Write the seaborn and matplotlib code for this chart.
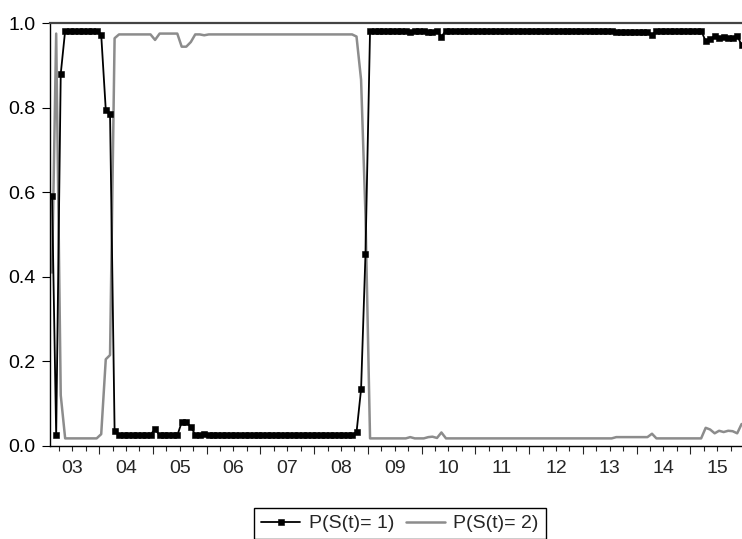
import matplotlib
matplotlib.use("Agg")
import numpy as np
import pandas as pd
import matplotlib.pyplot as plt
import matplotlib.dates as mdates
import seaborn as sns

# ---------------- data (monthly, 2003M02 .. 2015M12) ----------------
start_month = "2003-02-01"
end_month = "2015-12-01"
series_names = ["P(S(t)= 1)", "P(S(t)= 2)"]
year_labels = ["03", "04", "05", "06", "07", "08", "09", "10", "11", "12", "13", "14", "15"]
label_years = [2003, 2004, 2005, 2006, 2007, 2008, 2009, 2010, 2011, 2012, 2013, 2014, 2015]
y_ticks = [0.0, 0.2, 0.4, 0.6, 0.8, 1.0]

p_state1 = [
    # 2003 (Feb-Dec)
    0.590, 0.025, 0.880, 0.982, 0.982, 0.982, 0.982, 0.982, 0.982, 0.982, 0.982,
    # 2004
    0.972, 0.795, 0.785, 0.036, 0.027, 0.027, 0.027, 0.027, 0.027, 0.027, 0.027, 0.027,
    # 2005
    0.040, 0.025, 0.025, 0.025, 0.025, 0.025, 0.056, 0.056, 0.045, 0.027, 0.027, 0.029,
    # 2006
    0.027, 0.027, 0.027, 0.027, 0.027, 0.027, 0.027, 0.027, 0.027, 0.027, 0.027, 0.027,
    # 2007
    0.027, 0.027, 0.027, 0.027, 0.027, 0.027, 0.027, 0.027, 0.027, 0.027, 0.027, 0.027,
    # 2008
    0.027, 0.027, 0.027, 0.027, 0.027, 0.027, 0.027, 0.027, 0.027, 0.032, 0.134, 0.455,
    # 2009
    0.982, 0.982, 0.982, 0.982, 0.982, 0.982, 0.982, 0.982, 0.982, 0.979, 0.982, 0.982,
    # 2010
    0.982, 0.979, 0.978, 0.981, 0.968, 0.982, 0.982, 0.982, 0.982, 0.982, 0.982, 0.982,
    # 2011
    0.982, 0.982, 0.982, 0.982, 0.982, 0.982, 0.982, 0.982, 0.982, 0.982, 0.982, 0.982,
    # 2012
    0.982, 0.982, 0.982, 0.982, 0.982, 0.982, 0.982, 0.982, 0.982, 0.982, 0.982, 0.982,
    # 2013
    0.982, 0.982, 0.982, 0.982, 0.982, 0.982, 0.982, 0.979, 0.979, 0.979, 0.979, 0.979,
    # 2014
    0.979, 0.979, 0.979, 0.971, 0.982, 0.982, 0.982, 0.982, 0.982, 0.982, 0.982, 0.982,
    # 2015
    0.982, 0.982, 0.982, 0.957, 0.961, 0.970, 0.964, 0.967, 0.964, 0.965, 0.970, 0.948,
]

p_state2 = [
    # 2003 (Feb-Dec)
    0.410, 0.975, 0.120, 0.018, 0.018, 0.018, 0.018, 0.018, 0.018, 0.018, 0.018,
    # 2004
    0.028, 0.205, 0.215, 0.964, 0.973, 0.973, 0.973, 0.973, 0.973, 0.973, 0.973, 0.973,
    # 2005
    0.960, 0.975, 0.975, 0.975, 0.975, 0.975, 0.944, 0.944, 0.955, 0.973, 0.973, 0.971,
    # 2006
    0.973, 0.973, 0.973, 0.973, 0.973, 0.973, 0.973, 0.973, 0.973, 0.973, 0.973, 0.973,
    # 2007
    0.973, 0.973, 0.973, 0.973, 0.973, 0.973, 0.973, 0.973, 0.973, 0.973, 0.973, 0.973,
    # 2008
    0.973, 0.973, 0.973, 0.973, 0.973, 0.973, 0.973, 0.973, 0.973, 0.968, 0.866, 0.545,
    # 2009
    0.018, 0.018, 0.018, 0.018, 0.018, 0.018, 0.018, 0.018, 0.018, 0.021, 0.018, 0.018,
    # 2010
    0.018, 0.021, 0.022, 0.019, 0.032, 0.018, 0.018, 0.018, 0.018, 0.018, 0.018, 0.018,
    # 2011
    0.018, 0.018, 0.018, 0.018, 0.018, 0.018, 0.018, 0.018, 0.018, 0.018, 0.018, 0.018,
    # 2012
    0.018, 0.018, 0.018, 0.018, 0.018, 0.018, 0.018, 0.018, 0.018, 0.018, 0.018, 0.018,
    # 2013
    0.018, 0.018, 0.018, 0.018, 0.018, 0.018, 0.018, 0.021, 0.021, 0.021, 0.021, 0.021,
    # 2014
    0.021, 0.021, 0.021, 0.029, 0.018, 0.018, 0.018, 0.018, 0.018, 0.018, 0.018, 0.018,
    # 2015
    0.018, 0.018, 0.018, 0.043, 0.039, 0.030, 0.036, 0.033, 0.036, 0.035, 0.030, 0.052,
]

# ---------------- table ----------------
dates = pd.date_range(start_month, end_month, freq="MS") + pd.Timedelta(days=14)
df = pd.DataFrame({"date": dates, "p1": p_state1, "p2": p_state2})

# ---------------- style ----------------
sns.set_style("ticks")
plt.rcParams["font.family"] = ["Liberation Sans", "DejaVu Sans"]
FS = 14

W, H = 742, 539
fig = plt.figure(figsize=(W / 100, H / 100), dpi=100)
ax = fig.add_axes([50 / W, 1 - 446 / H, 694.1 / W, (446 - 23) / H])

sns.lineplot(data=df, x="date", y="p2", color="#8c8c8c", linewidth=1.8,
             ax=ax, label=series_names[1])
sns.lineplot(data=df, x="date", y="p1", color="black", linewidth=1.3,
             marker="s", markersize=4.8, markeredgewidth=0.4,
             markeredgecolor="black", ax=ax, label=series_names[0])

ax.set_xlim(pd.Timestamp("2003-02-01"), pd.Timestamp("2016-01-01"))
ax.set_ylim(0, 1)
ax.set_xlabel("")
ax.set_ylabel("")

ax.set_yticks(y_ticks)
ax.set_yticklabels([f"{v:.1f}" for v in y_ticks], fontsize=FS)
ax.tick_params(axis="y", direction="out", length=5.8, width=0.8, pad=4.5,
               left=True, right=False, colors="black")

ax.xaxis.set_major_locator(mdates.YearLocator(1))
ax.xaxis.set_minor_locator(mdates.MonthLocator(bymonth=[4, 7, 10]))
ax.tick_params(axis="x", which="major", direction="out", length=5.8, width=0.8,
               labelbottom=False, top=False)
ax.tick_params(axis="x", which="minor", direction="out", length=3.6, width=0.8,
               labelbottom=False, top=False)

sec = ax.secondary_xaxis("bottom")
sec.set_xticks([mdates.date2num(pd.Timestamp(f"{y}-07-01")) for y in label_years])
sec.set_xticklabels(year_labels, fontsize=FS)
sec.tick_params(length=0, pad=10)
sec.spines["bottom"].set_visible(False)

for s in ["left", "bottom", "top"]:
    ax.spines[s].set_visible(True)
    ax.spines[s].set_color("black")
    ax.spines[s].set_linewidth(1.0)
ax.spines["top"].set_color("#444444")
ax.spines["top"].set_linewidth(1.6)
ax.spines["right"].set_visible(False)

handles, labels = ax.get_legend_handles_labels()
leg = ax.legend(handles[::-1], labels[::-1], loc="upper center",
                bbox_to_anchor=(400 / W, 1 - 508 / H), bbox_transform=fig.transFigure,
                ncol=2, frameon=True, fancybox=False, edgecolor="black",
                framealpha=1, fontsize=FS, handlelength=2.0, handletextpad=0.45,
                columnspacing=0.6, borderpad=0.35, borderaxespad=0, numpoints=1)
leg.get_frame().set_linewidth(1.0)

fig.savefig("out.png", dpi=100)
